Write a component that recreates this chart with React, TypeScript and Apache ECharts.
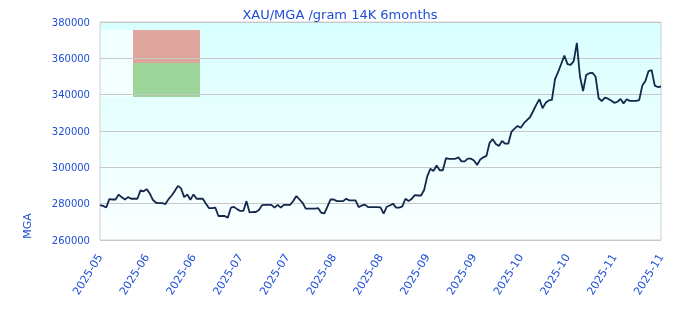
import React, { useEffect, useRef } from "react";
import * as echarts from "echarts";

const titleText = "XAU/MGA /gram 14K 6months";
const yAxisName = "MGA";
const tickLabels = [
  "2025-05", "2025-06", "2025-06", "2025-07", "2025-07", "2025-08", "2025-08",
  "2025-09", "2025-09", "2025-10", "2025-10", "2025-11", "2025-11",
];
const yMin = 260000;
const yMax = 380000;
const yStep = 20000;

const prices = [
  279200, 278800, 277900, 282500, 282300, 282300, 285000, 283500, 282300, 283600,
  282700, 282700, 282700, 287300, 286800, 288000, 285500, 282000, 280500, 280300,
  280300, 279800, 282500, 284500, 287000, 289800, 288400, 283600, 285000, 282200,
  285100, 282700, 282700, 282700, 280000, 277500, 277500, 277800, 273200, 273200,
  273200, 272200, 277800, 278200, 277000, 276000, 276000, 281400, 275200, 275400,
  275400, 276500, 279200, 279300, 279300, 279300, 277800, 279300, 277800, 279300,
  279300, 279300, 281500, 284200, 282300, 280500, 277300, 277300, 277300, 277300,
  277500, 275000, 274700, 278500, 282300, 282300, 281400, 281400, 281400, 282700,
  281800, 281800, 281800, 278100, 279000, 279500, 278100, 278100, 278100, 278100,
  278000, 274500, 278300, 279000, 280000, 277800, 277800, 278500, 282700, 281500,
  282600, 284700, 284500, 284500, 287500, 295000, 299200, 298000, 301000, 298400,
  298400, 305000, 304700, 304700, 304700, 305500, 303300, 303300, 304800, 304800,
  303800, 301300, 304300, 305500, 306300, 313500, 315500, 312800, 311800, 314500,
  313000, 313000, 319500, 321300, 322800, 321800, 324300, 326000, 327700, 331000,
  334500, 337500, 332500, 335500, 336800, 337200, 348500, 352500, 357000, 361500,
  356800, 356400, 358500, 368500, 350000, 342000, 350800, 351800, 352000, 350000,
  338000, 336500, 338400, 337800, 336800, 335500, 336000, 337600, 335200, 337500,
  336600, 336600, 336600, 337000, 345000, 347500, 353000, 353500, 345000, 344200,
  344500,
];

const labelColor = "#1f4fd6";
const lineColor = "#14284b";

export default function App() {
  const ref = useRef<HTMLDivElement>(null);
  useEffect(() => {
    if (!ref.current) return;
    const chart = echarts.init(ref.current, null, { renderer: "svg" });
    const lastIdx = prices.length - 1;
    const step = lastIdx / (tickLabels.length - 1);
    const gridLeft = 100;
    const gridTop = 22;
    const gridRight = 19;
    const gridBottom = 80;
    const plotW = 680 - gridLeft - gridRight;
    const plotH = 320 - gridTop - gridBottom;
    chart.setOption({
      animation: false,
      textStyle: { fontFamily: "DejaVu Sans" },
      title: {
        text: titleText,
        left: "center",
        top: 3,
        textStyle: { color: labelColor, fontSize: 13, fontWeight: "normal", fontFamily: "DejaVu Sans" },
      },
      graphic: [
        {
          type: "rect",
          z: -10,
          shape: { x: gridLeft, y: gridTop, width: plotW, height: plotH },
          style: {
            fill: new echarts.graphic.LinearGradient(0, 0, 0, 1, [
              { offset: 0, color: "#d8ffff" },
              { offset: 1, color: "#fbffff" },
            ]),
          },
        },
        {
          type: "rect",
          z: -5,
          shape: { x: gridLeft, y: 30, width: 33, height: 67 },
          style: { fill: "rgba(255,255,255,0.6)" },
        },
        {
          type: "rect",
          z: -5,
          shape: { x: 133, y: 30, width: 67, height: 33 },
          style: { fill: "#dfa69e" },
        },
        {
          type: "rect",
          z: -5,
          shape: { x: 133, y: 63, width: 67, height: 34 },
          style: { fill: "#9dd49a" },
        },
        {
          type: "text",
          x: 27,
          y: 226,
          rotation: Math.PI / 2,
          style: {
            text: yAxisName,
            fill: labelColor,
            fontSize: 11,
            fontFamily: "DejaVu Sans",
            align: "center",
            verticalAlign: "middle",
          },
        },
      ],
      grid: {
        left: gridLeft,
        right: gridRight,
        top: gridTop,
        bottom: gridBottom,
        show: true,
        borderColor: "#d0d0d0",
        borderWidth: 1,
        backgroundColor: "transparent",
      },
      xAxis: {
        type: "value",
        min: 0,
        max: lastIdx,
        interval: step,
        axisLine: { show: false },
        axisTick: { show: false },
        splitLine: { show: false },
        axisLabel: {
          rotate: 58,
          margin: 15,
          color: labelColor,
          fontSize: 11,
          fontFamily: "DejaVu Sans",
          showMinLabel: true,
          showMaxLabel: true,
          formatter: (v: number) => tickLabels[Math.round(v / step)] ?? "",
        },
      },
      yAxis: {
        type: "value",
        min: yMin,
        max: yMax,
        interval: yStep,
        axisLine: { show: false },
        axisTick: { show: false },
        splitLine: { show: true, lineStyle: { color: "#c8c8c8", width: 1 } },
        axisLabel: {
          color: labelColor,
          fontSize: 10,
          margin: 10,
          fontFamily: "DejaVu Sans",
          formatter: (v: number) => String(v),
        },
      },
      series: [
        {
          type: "line",
          data: prices.map((v, i) => [i, v]),
          showSymbol: false,
          symbol: "none",
          lineStyle: { color: lineColor, width: 1.8 },
          z: 3,
        },
      ],
    });
    return () => chart.dispose();
  }, []);
  return (
    <div
      ref={ref}
      style={{ position: "fixed", left: 0, top: 0, width: 680, height: 320 }}
    />
  );
}
